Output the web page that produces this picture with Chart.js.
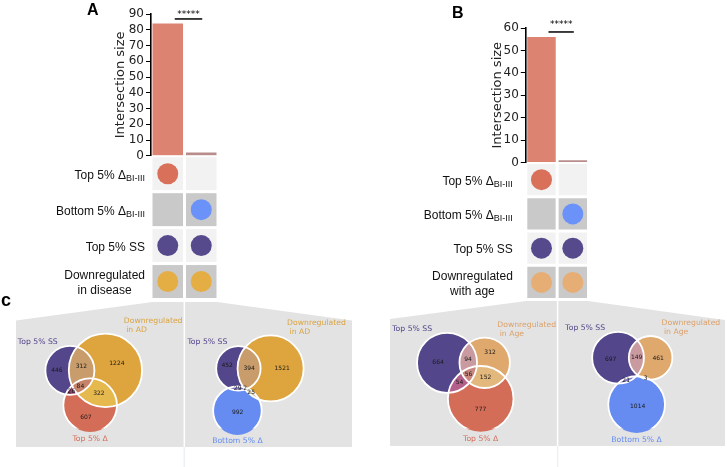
<!DOCTYPE html>
<html>
<head>
<meta charset="utf-8">
<script src="https://cdn.jsdelivr.net/npm/chart.js@4.4.1/dist/chart.umd.min.js"></script>
<style>
  html, body { margin: 0; padding: 0; background: #fff; width: 727px; height: 467px; overflow: hidden; }
  canvas { position: absolute; }
  #venn { left: 0; top: 0; }
  #upsetA { left: 0; top: 0; }
  #upsetB { left: 370px; top: 0; }
</style>
</head>
<body>
<canvas id="venn" width="727" height="467"></canvas>
<canvas id="upsetA" width="260" height="310"></canvas>
<canvas id="upsetB" width="260" height="310"></canvas>
<script>
// ---- data ----
// the two intersections shown as bars
const intersections = ['Top Δ ∩ SS ∩ down', 'Bottom Δ ∩ SS ∩ down'];
const sizesA = [84, 2];
const sizesB = [56, 1];
const ticksA = [0, 10, 20, 30, 40, 50, 60, 70, 80, 90];
const ticksB = [0, 10, 20, 30, 40, 50, 60];
const rowsA = ['Top 5% Δ', 'Bottom 5% Δ', 'Top 5% SS', 'Downregulated\nin disease'];
const rowsB = ['Top 5% Δ', 'Bottom 5% Δ', 'Top 5% SS', 'Downregulated\nwith age'];
const rowSubs = ['BI-III', 'BI-III', '', ''];
// set membership of each intersection (one list per bar, one entry per row)
const membership = [[1, 0, 1, 1], [0, 1, 1, 1]];

// venn region counts, order: A, B, AB, C, AC, BC, ABC
const vennTopAD = [446, 1224, 312, 607, 26, 322, 84];
const vennBottomAD = [452, 1521, 394, 992, 29, 25, 2];
const vennTopAge = [664, 312, 94, 777, 54, 152, 56];
const vennBottomAge = [697, 461, 149, 1014, 21, 3, 1];
const setsTopAD = ['Top 5% SS', 'Downregulated\n in AD', 'Top 5% Δ'];
const setsBottomAD = ['Top 5% SS', 'Downregulated\n in AD', 'Bottom 5% Δ'];
const setsTopAge = ['Top 5% SS', 'Downregulated\n in Age', 'Top 5% Δ'];
const setsBottomAge = ['Top 5% SS', 'Downregulated\n in Age', 'Bottom 5% Δ'];

// ---- style ----
Chart.defaults.font.family = "'DejaVu Sans', sans-serif";
const RED = '#d8705a', BLUE = '#6a92f8', PURPLE = '#564a8c';
const rowColorsA = [RED, BLUE, PURPLE, '#e4ae45'];
const rowColorsB = [RED, BLUE, PURPLE, '#e6ad74'];
const barColors = ['#dd8372', '#b98c8c'];

function drawRowLabel(ctx, text, sub, right, cy) {
  const mainFont = '12px "Liberation Sans", Arial, sans-serif';
  const subFont = '9px "Liberation Sans", Arial, sans-serif';
  const lines = text.split('\n');
  ctx.fillStyle = '#111';
  ctx.textBaseline = 'alphabetic';
  if (lines.length === 1) {
    ctx.font = subFont;
    const sw = sub ? ctx.measureText(sub).width : 0;
    ctx.font = mainFont;
    ctx.textAlign = 'right';
    ctx.fillText(lines[0], right - sw, cy + 5);
    if (sub) {
      ctx.font = subFont;
      ctx.fillText(sub, right, cy + 7.5);
    }
  } else {
    ctx.font = mainFont;
    const w = Math.max(...lines.map(l => ctx.measureText(l).width));
    ctx.textAlign = 'center';
    lines.forEach((l, i) => ctx.fillText(l, right - w / 2, cy + 5 + (i - (lines.length - 1) / 2) * 15));
  }
}

const upsetDecor = {
  id: 'upsetDecor',
  beforeDatasetsDraw(chart, args, o) {
    const ctx = chart.ctx, xs = chart.scales.x, ms = chart.scales.m;
    const cw = xs.getPixelForValue(1) - xs.getPixelForValue(0);
    const rh = ms.getPixelForValue(1) - ms.getPixelForValue(0);
    ctx.save();
    o.rows.forEach((r, ri) => {
      ctx.fillStyle = ri % 2 ? '#c9c9c9' : '#f2f2f2';
      chart.data.labels.forEach((c, ci) => {
        const cx = xs.getPixelForValue(ci), cy = ms.getPixelForValue(ri);
        ctx.fillRect(cx - cw / 2 + 1.5, cy - rh / 2 + 1.5, cw - 3, rh - 3);
      });
    });
    ctx.restore();
  },
  afterDraw(chart, args, o) {
    const ctx = chart.ctx, xs = chart.scales.x, ys = chart.scales.y, ms = chart.scales.m;
    ctx.save();
    o.rows.forEach((r, ri) => drawRowLabel(ctx, r, rowSubs[ri], chart.chartArea.left - o.labelGap, ms.getPixelForValue(ri)));
    // panel letter
    ctx.font = 'bold 16px "Liberation Sans", Arial, sans-serif';
    ctx.fillStyle = '#000';
    ctx.textAlign = 'left';
    ctx.fillText(o.letter, o.letterX, o.letterY);
    // significance bracket
    const sizes = chart.data.datasets[0].data;
    const yb = ys.getPixelForValue(Math.max(...sizes)) - o.bracketGap;
    const x0 = xs.getPixelForValue(0) + 7, x1 = xs.getPixelForValue(1) + 1;
    ctx.strokeStyle = '#000';
    ctx.lineWidth = 1.5;
    ctx.beginPath();
    ctx.moveTo(x0, yb);
    ctx.lineTo(x1, yb);
    ctx.stroke();
    ctx.font = '9px "DejaVu Sans"';
    ctx.textAlign = 'center';
    ctx.textBaseline = 'middle';
    ctx.fillText('*****', (x0 + x1) / 2, yb - o.starGap);
    ctx.restore();
  }
};

function upset(id, cfg) {
  const dots = [], dotColors = [];
  membership.forEach((col, ci) => col.forEach((m, ri) => {
    if (m) {
      dots.push({x: intersections[ci], y: cfg.rows[ri]});
      dotColors.push(cfg.rowColors[ri]);
    }
  }));
  const fixWidth = s => { s.width = cfg.axisWidth; };
  return new Chart(document.getElementById(id), {
    type: 'bar',
    data: {
      labels: intersections,
      datasets: [{
        type: 'bar',
        data: cfg.sizes,
        yAxisID: 'y',
        backgroundColor: barColors,
        barPercentage: 0.91,
        categoryPercentage: 1
      }, {
        type: 'line',
        data: dots,
        yAxisID: 'm',
        showLine: false,
        pointRadius: 10.5,
        pointBackgroundColor: dotColors,
        pointBorderWidth: 0
      }]
    },
    options: {
      responsive: false,
      animation: false,
      events: [],
      layout: { padding: cfg.padding },
      scales: {
        x: { type: 'category', offset: true, display: false },
        // matrix rows sit under the bars (left boxes stack in reverse order)
        m: {
          type: 'category', position: 'left', stack: 'upset', stackWeight: cfg.weights[1],
          labels: cfg.rows, offset: true, afterFit: fixWidth,
          ticks: { display: false }, grid: { display: false }, border: { display: false }
        },
        y: {
          type: 'linear', position: 'left', stack: 'upset', stackWeight: cfg.weights[0],
          min: 0, max: cfg.ticks[cfg.ticks.length - 1],
          afterBuildTicks: s => { s.ticks = cfg.ticks.map(v => ({value: v})); },
          afterFit: fixWidth,
          ticks: { font: { size: 12 }, color: '#222', padding: 2, autoSkip: false },
          grid: { drawOnChartArea: false, tickLength: 5, color: '#000', lineWidth: 1 },
          border: { color: '#000', width: 1.6 },
          title: { display: true, text: 'Intersection size', font: { size: 13 }, color: '#222',
                   padding: { top: cfg.titlePad, bottom: 0 } }
        }
      },
      plugins: {
        legend: { display: false },
        tooltip: { enabled: false },
        upsetDecor: {
          rows: cfg.rows, letter: cfg.letter, letterX: cfg.letterX, letterY: cfg.letterY,
          labelGap: cfg.labelGap, bracketGap: cfg.bracketGap, starGap: cfg.starGap
        }
      }
    },
    plugins: [upsetDecor]
  });
}

upset('upsetA', {
  sizes: sizesA, ticks: ticksA, rows: rowsA, rowColors: rowColorsA,
  padding: { left: 0, top: 14, right: 42, bottom: 6 }, weights: [144, 146],
  axisWidth: 151, titlePad: 113, letter: 'A', letterX: 87, letterY: 15,
  labelGap: 6, bracketGap: 4.5, starGap: 4
});
upset('upsetB', {
  sizes: sizesB, ticks: ticksB, rows: rowsB, rowColors: rowColorsB,
  padding: { left: 0, top: 28, right: 41.5, bottom: 5.5 }, weights: [137, 139.5],
  axisWidth: 155.8, titlePad: 120, letter: 'B', letterX: 82, letterY: 18,
  labelGap: 13, bracketGap: 5, starGap: 7
});

// ---- venn diagrams (area-proportional circles, laid out from the counts) ----
const vennPanels = [
  { counts: vennTopAD, sets: setsTopAD, anchor: [88.5, 382], k: 0.832,
    fills: ['#54468a', '#dea53e', '#d46d57'], pairs: ['#c99c6c', '#93466a', '#e6b94f'], triple: '#c6836a',
    text: ['#54468a', '#d9a441', '#d4705c'] },
  { counts: vennBottomAD, sets: setsBottomAD, anchor: [248.8, 382.5], k: 0.75,
    fills: ['#54468a', '#dea53e', '#668cf2'], pairs: ['#c99c6c', '#7f75c8', '#cfc0a0'], triple: '#b89a9a',
    text: ['#54468a', '#d9a441', '#668cf2'] },
  { counts: vennTopAge, sets: setsTopAge, anchor: [470.8, 374.8], k: 1.018,
    fills: ['#54468a', '#dfa86c', '#d46d57'], pairs: ['#c99aa0', '#b4608a', '#e3b87c'], triple: '#c9877f',
    text: ['#54468a', '#dba16a', '#d4705c'] },
  { counts: vennBottomAge, sets: setsBottomAge, anchor: [635.1, 373.4], k: 0.88,
    fills: ['#54468a', '#dfa86c', '#668cf2'], pairs: ['#c99aa0', '#7f75c8', '#d0b8b0'], triple: '#c0a0c0',
    text: ['#54468a', '#dba16a', '#668cf2'] }
];
const VENN_BORDER = 1.8;

function lensArea(r1, r2, d) {
  if (d >= r1 + r2) return 0;
  if (d <= Math.abs(r1 - r2)) return Math.PI * Math.min(r1, r2) ** 2;
  const a = r1 * r1 * Math.acos((d * d + r1 * r1 - r2 * r2) / (2 * d * r1));
  const b = r2 * r2 * Math.acos((d * d + r2 * r2 - r1 * r1) / (2 * d * r2));
  const c = 0.5 * Math.sqrt((-d + r1 + r2) * (d + r1 - r2) * (d - r1 + r2) * (d + r1 + r2));
  return a + b - c;
}
function distForArea(r1, r2, area) {
  let lo = Math.abs(r1 - r2), hi = r1 + r2;
  for (let i = 0; i < 60; i++) {
    const mid = (lo + hi) / 2;
    if (lensArea(r1, r2, mid) > area) lo = mid; else hi = mid;
  }
  return (lo + hi) / 2;
}
function vennLayout(v) {
  const [a, b, ab, c, ac, bc, abc] = v.counts;
  const sizes = [a + ab + ac + abc, b + ab + bc + abc, c + ac + bc + abc];
  const r = sizes.map(s => Math.sqrt(s / Math.PI));
  const dab = distForArea(r[0], r[1], ab + abc);
  const dac = distForArea(r[0], r[2], ac + abc);
  const dbc = distForArea(r[1], r[2], bc + abc);
  const cx = (dac * dac - dbc * dbc + dab * dab) / (2 * dab);
  const cy = Math.sqrt(Math.max(dac * dac - cx * cx, 0));
  const pts = [[0, 0], [dab, 0], [cx, cy]];
  const mx = (dab + cx) / 3, my = cy / 3;
  const s = v.k * Math.sqrt(Math.PI);
  return pts.map((p, i) => ({ x: v.anchor[0] + (p[0] - mx) * s, y: v.anchor[1] + (p[1] - my) * s, r: r[i] * s }));
}
const vennData = vennPanels.map(vennLayout);
// Chart.js pads the chart area by the largest bubble; stretch the scales so one unit stays one pixel
const overflow = Math.max(...vennData.flat().map(p => p.r)) + VENN_BORDER;

const zoomPanels = [
  { poly: [[16, 447], [16, 320.5], [152.5, 302], [217, 302], [352, 320.5], [352, 447]], split: 184.3 },
  { poly: [[390, 446], [390, 319], [526.5, 301], [588, 301], [725, 320], [725, 446]], split: 557.6 }
];

function circlesOf(chart, i) {
  return chart.getDatasetMeta(i).data.map(el => ({ x: el.x, y: el.y, r: el.options.radius }));
}
function circlePath(ctx, c) {
  ctx.beginPath();
  ctx.arc(c.x, c.y, c.r, 0, Math.PI * 2);
}
// best spot for a region label: the point inside the region farthest from any circle edge
function regionSpots(cs) {
  const x0 = Math.min(...cs.map(c => c.x - c.r)), x1 = Math.max(...cs.map(c => c.x + c.r));
  const y0 = Math.min(...cs.map(c => c.y - c.r)), y1 = Math.max(...cs.map(c => c.y + c.r));
  const best = {};
  for (let x = x0; x <= x1; x += 0.5) {
    for (let y = y0; y <= y1; y += 0.5) {
      let mask = 0, score = Infinity;
      cs.forEach((c, j) => {
        const d = Math.hypot(x - c.x, y - c.y);
        if (d < c.r) mask |= 1 << j;
        score = Math.min(score, Math.abs(d - c.r));
      });
      if (mask && (!best[mask] || score > best[mask].score)) best[mask] = { x, y, score };
    }
  }
  return best;
}

const vennDecor = {
  id: 'vennDecor',
  beforeDatasetsDraw(chart) {
    const ctx = chart.ctx;
    ctx.save();
    zoomPanels.forEach(p => {
      ctx.fillStyle = '#e3e3e3';
      ctx.beginPath();
      p.poly.forEach((pt, i) => i ? ctx.lineTo(pt[0], pt[1]) : ctx.moveTo(pt[0], pt[1]));
      ctx.closePath();
      ctx.fill();
      const bottom = p.poly[0][1];
      ctx.lineWidth = 1.5;
      ctx.strokeStyle = '#fff';
      ctx.beginPath(); ctx.moveTo(p.split, 300); ctx.lineTo(p.split, bottom); ctx.stroke();
      ctx.strokeStyle = '#eef0f7';
      ctx.beginPath(); ctx.moveTo(p.split, bottom); ctx.lineTo(p.split, 467); ctx.stroke();
    });
    vennPanels.forEach((v, i) => {
      const cs = circlesOf(chart, i);
      cs.forEach((c, j) => { ctx.fillStyle = v.fills[j]; circlePath(ctx, c); ctx.fill(); });
      [[0, 1], [0, 2], [1, 2]].forEach(([a, b], k) => {
        ctx.save();
        circlePath(ctx, cs[a]); ctx.clip();
        ctx.fillStyle = v.pairs[k];
        circlePath(ctx, cs[b]); ctx.fill();
        ctx.restore();
      });
      ctx.save();
      circlePath(ctx, cs[0]); ctx.clip();
      circlePath(ctx, cs[1]); ctx.clip();
      ctx.fillStyle = v.triple;
      circlePath(ctx, cs[2]); ctx.fill();
      ctx.restore();
    });
    ctx.restore();
  },
  afterDatasetsDraw(chart) {
    const ctx = chart.ctx;
    ctx.save();
    // panel letter c
    ctx.font = 'bold 18px "Liberation Sans", Arial, sans-serif';
    ctx.fillStyle = '#000';
    ctx.textAlign = 'left';
    ctx.textBaseline = 'alphabetic';
    ctx.fillText('c', 1, 306);
    vennPanels.forEach((v, i) => {
      const cs = circlesOf(chart, i);
      const spots = regionSpots(cs);
      ctx.font = '6px "DejaVu Sans"';
      ctx.fillStyle = '#1a1a1a';
      ctx.textAlign = 'center';
      ctx.textBaseline = 'middle';
      v.counts.forEach((n, idx) => {
        const s = spots[idx + 1];
        if (s) ctx.fillText(String(n), s.x, s.y);
      });
      // set names (placed like matplotlib-venn: A upper left, B upper right, C below)
      ctx.font = '7.7px "DejaVu Sans"';
      const lh = 9;
      const place = [
        { x: cs[0].x - cs[0].r / 2, y: cs[0].y - cs[0].r, align: 'right', va: 'bottom' },
        { x: cs[1].x + cs[1].r / 2, y: cs[1].y - cs[1].r, align: 'left', va: 'bottom' },
        { x: cs[2].x, y: cs[2].y + cs[2].r * 1.1, align: 'center', va: 'top' }
      ];
      v.sets.forEach((name, j) => {
        const lines = name.split('\n');
        const p = place[j];
        ctx.fillStyle = v.text[j];
        ctx.textAlign = p.align;
        ctx.textBaseline = p.va;
        lines.forEach((l, li) => {
          const y = p.va === 'bottom' ? p.y - (lines.length - 1 - li) * lh : p.y + li * lh;
          ctx.fillText(l, p.x, y);
        });
      });
    });
    ctx.restore();
  }
};

new Chart(document.getElementById('venn'), {
  type: 'bubble',
  data: {
    datasets: vennData.map(d => ({
      data: d,
      backgroundColor: 'rgba(0,0,0,0)',
      borderColor: '#ffffff',
      borderWidth: VENN_BORDER
    }))
  },
  options: {
    responsive: false,
    animation: false,
    events: [],
    layout: { padding: 0 },
    scales: {
      x: { type: 'linear', min: overflow, max: 727 - overflow, display: false },
      y: { type: 'linear', min: overflow, max: 467 - overflow, reverse: true, display: false }
    },
    plugins: { legend: { display: false }, tooltip: { enabled: false } }
  },
  plugins: [vennDecor]
});
</script>
</body>
</html>
